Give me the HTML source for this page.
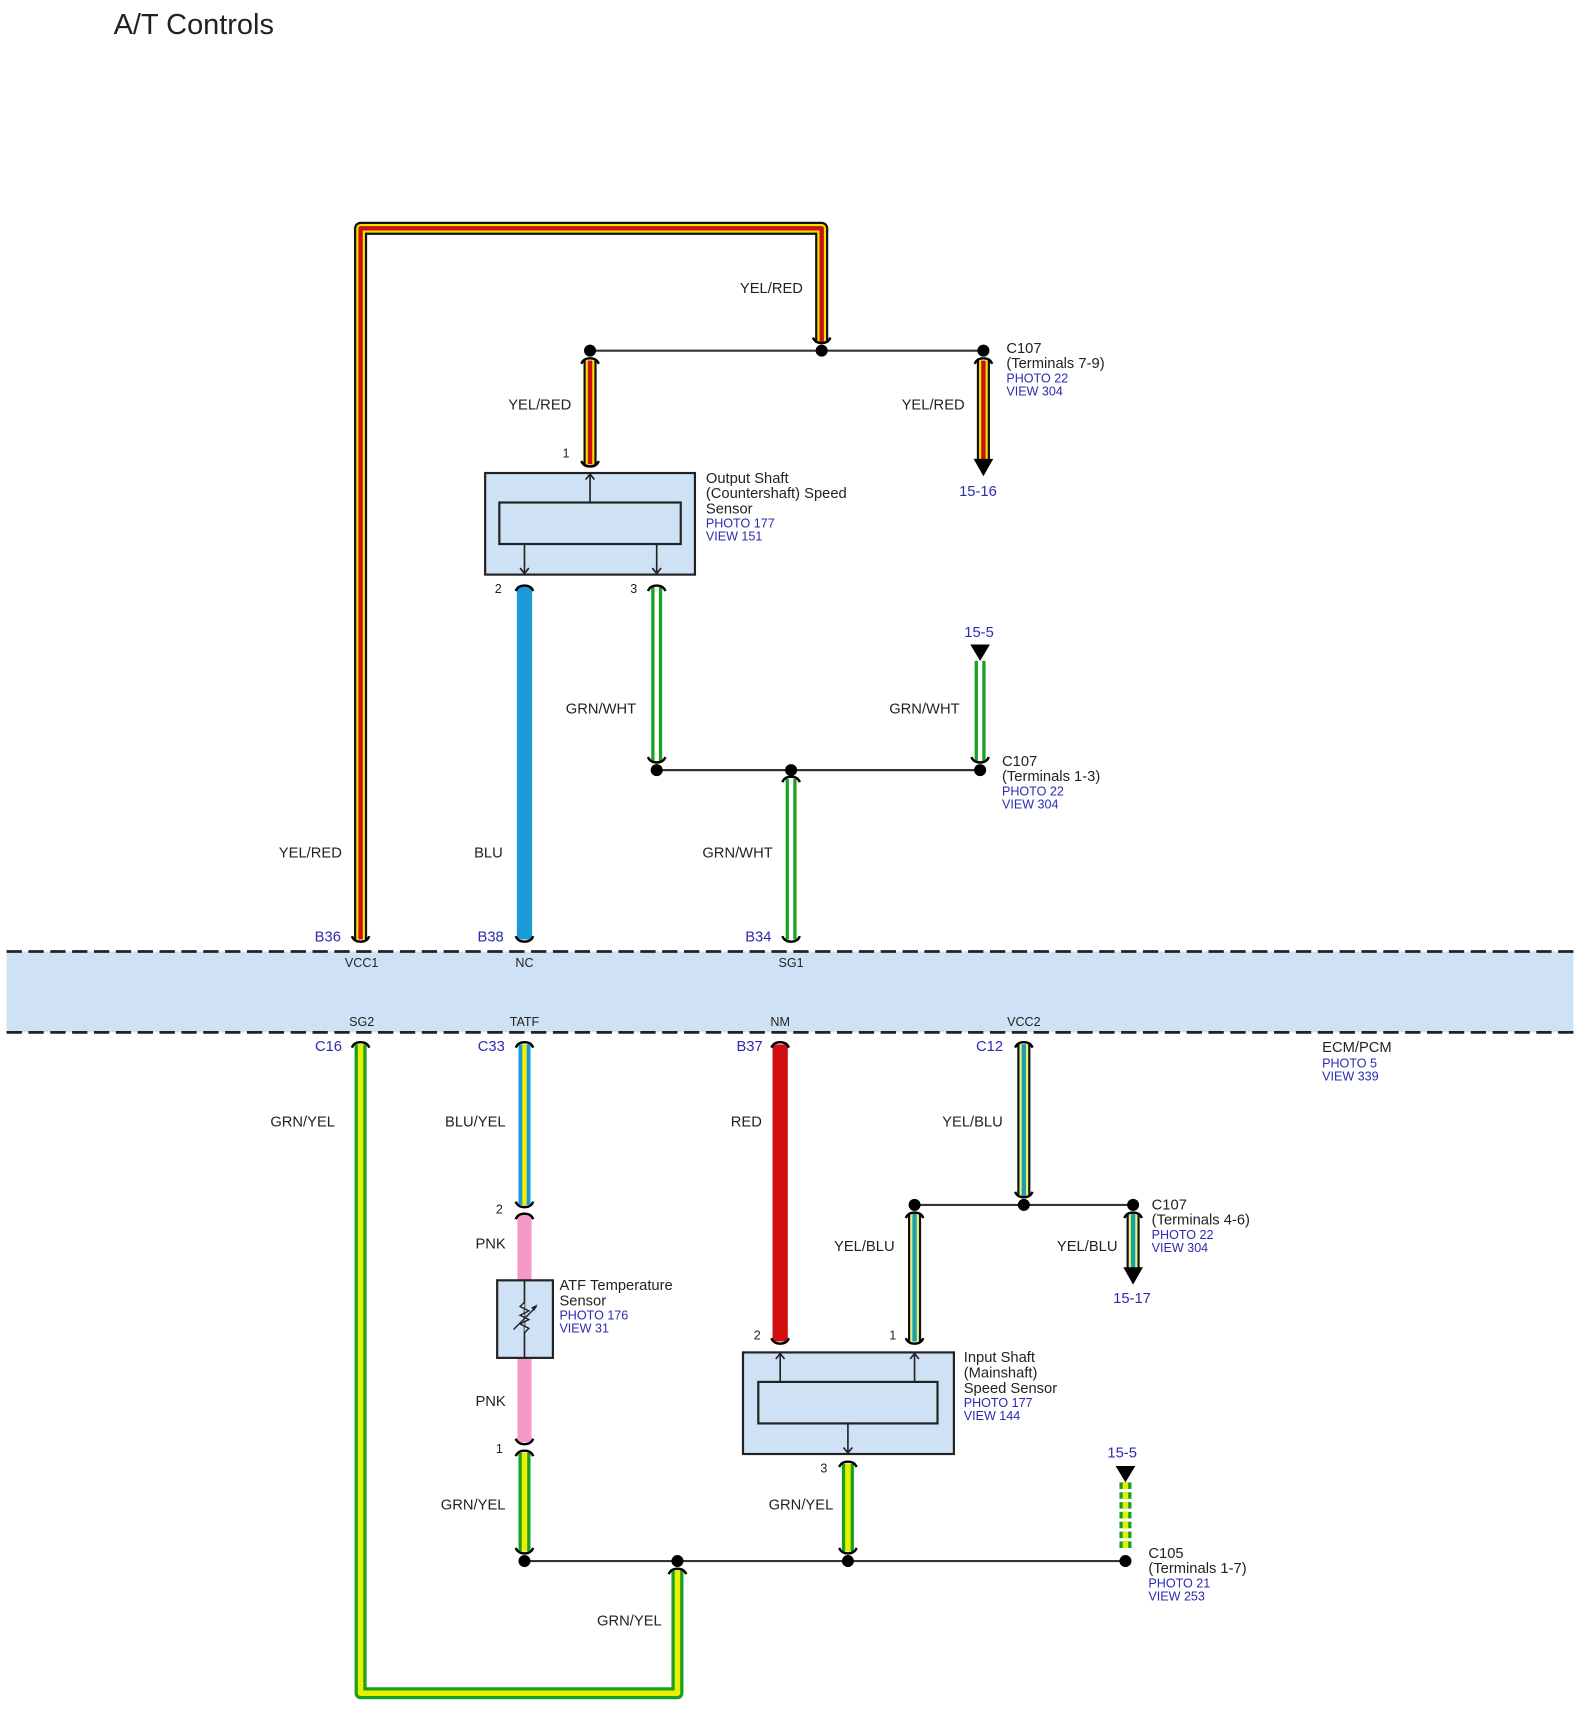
<!DOCTYPE html>
<html><head><meta charset="utf-8"><style>
html,body{margin:0;padding:0;background:#fff}
svg{display:block}
text{font-family:"Liberation Sans",sans-serif;font-size:13.5px;fill:#222}
.b{fill:#2b2bb0;font-size:11.5px}
.bl{fill:#2b2bb0;font-size:13.5px}
.s{font-size:11.5px}
.m{text-anchor:middle}
.e{text-anchor:end}
</style></head><body>
<svg width="1580" height="1714" viewBox="0 0 1446 1569" preserveAspectRatio="none" xmlns="http://www.w3.org/2000/svg">
<defs>
<path id="capD" d="M-8 4 Q-6 -1 0 -1 Q6 -1 8 4" fill="none" stroke="#000" stroke-width="2.2"/>
<path id="capU" d="M-8 -4 Q-6 1 0 1 Q6 1 8 -4" fill="none" stroke="#000" stroke-width="2.2"/>
</defs>
<text x="104" y="31" style="font-size:26.5px">A/T Controls</text>

<rect x="6" y="871" width="1434" height="74" fill="#cfe2f5"/>
<line x1="6" y1="871" x2="1440" y2="871" stroke="#222" stroke-width="2.5" stroke-dasharray="14 6"/>
<line x1="6" y1="945" x2="1440" y2="945" stroke="#222" stroke-width="2.5" stroke-dasharray="14 6"/>

<g fill="none" stroke-linejoin="round">
<polyline points="330,860 330,209 752,209 752,314" stroke="#111" stroke-width="12"/>
<polyline points="330,860 330,209 752,209 752,314" stroke="#f5e000" stroke-width="8"/>
<polyline points="330,860 330,209 752,209 752,314" stroke="#cc1010" stroke-width="4"/>
</g>
<line x1="540" y1="321" x2="900" y2="321" stroke="#333" stroke-width="2"/>
<circle cx="540" cy="321" r="5.5"/><circle cx="752" cy="321" r="5.5"/><circle cx="900" cy="321" r="5.5"/>
<use href="#capU" x="752" y="313"/>
<g fill="none">
<line x1="540" y1="330" x2="540" y2="425" stroke="#111" stroke-width="12"/>
<line x1="540" y1="330" x2="540" y2="425" stroke="#f5e000" stroke-width="8"/>
<line x1="540" y1="330" x2="540" y2="425" stroke="#cc1010" stroke-width="4"/>
<line x1="900" y1="330" x2="900" y2="422" stroke="#111" stroke-width="12"/>
<line x1="900" y1="330" x2="900" y2="422" stroke="#f5e000" stroke-width="8"/>
<line x1="900" y1="330" x2="900" y2="422" stroke="#cc1010" stroke-width="4"/>
</g>
<polygon points="891,420 909,420 900,436" fill="#000"/>
<use href="#capD" x="540" y="329"/><use href="#capD" x="900" y="329"/><use href="#capU" x="540" y="426"/>
<text x="706" y="268" class="m">YEL/RED</text>
<text x="494" y="375" class="m">YEL/RED</text>
<text x="854" y="375" class="m">YEL/RED</text>
<text x="518" y="419" class="m s">1</text>
<text x="895" y="454" class="bl m">15-16</text>
<text x="921" y="323">C107</text>
<text x="921" y="337">(Terminals 7-9)</text>
<text x="921" y="350" class="b">PHOTO 22</text>
<text x="921" y="362" class="b">VIEW 304</text>

<rect x="444" y="433" width="192" height="93" fill="#cfe2f5" stroke="#222" stroke-width="2"/>
<rect x="457" y="460" width="166" height="38" fill="#cfe2f5" stroke="#222" stroke-width="2"/>
<g stroke="#222" stroke-width="1.5" fill="none">
<line x1="540" y1="460" x2="540" y2="434"/><polyline points="536,439 540,434 544,439"/>
<line x1="480" y1="498" x2="480" y2="525"/><polyline points="476,520 480,525 484,520"/>
<line x1="601" y1="498" x2="601" y2="525"/><polyline points="597,520 601,525 605,520"/>
</g>
<text x="646" y="442">Output Shaft</text>
<text x="646" y="456">(Countershaft) Speed</text>
<text x="646" y="470">Sensor</text>
<text x="646" y="483" class="b">PHOTO 177</text>
<text x="646" y="495" class="b">VIEW 151</text>
<text x="456" y="543" class="m s">2</text>
<text x="580" y="543" class="m s">3</text>

<line x1="480" y1="537" x2="480" y2="860" stroke="#1a9ad6" stroke-width="14"/>
<use href="#capD" x="480" y="537"/>
<text x="447" y="785" class="m">BLU</text>

<g fill="none">
<line x1="601" y1="537" x2="601" y2="697" stroke="#1aa020" stroke-width="10"/>
<line x1="601" y1="537" x2="601" y2="697" stroke="#fff" stroke-width="4"/>
<line x1="724" y1="713" x2="724" y2="860" stroke="#1aa020" stroke-width="10"/>
<line x1="724" y1="713" x2="724" y2="860" stroke="#fff" stroke-width="4"/>
<line x1="897" y1="605" x2="897" y2="697" stroke="#1aa020" stroke-width="10"/>
<line x1="897" y1="605" x2="897" y2="697" stroke="#fff" stroke-width="4"/>
</g>
<polygon points="888,590 906,590 897,605" fill="#000"/>
<use href="#capD" x="601" y="537"/><use href="#capU" x="601" y="697"/><use href="#capD" x="724" y="712"/><use href="#capU" x="897" y="697"/>
<line x1="601" y1="705" x2="897" y2="705" stroke="#333" stroke-width="2"/>
<circle cx="601" cy="705" r="5.5"/><circle cx="724" cy="705" r="5.5"/><circle cx="897" cy="705" r="5.5"/>
<text x="550" y="653" class="m">GRN/WHT</text>
<text x="846" y="653" class="m">GRN/WHT</text>
<text x="675" y="785" class="m">GRN/WHT</text>
<text x="284" y="785" class="m">YEL/RED</text>
<text x="896" y="583" class="bl m">15-5</text>
<text x="917" y="701">C107</text>
<text x="917" y="715">(Terminals 1-3)</text>
<text x="917" y="728" class="b">PHOTO 22</text>
<text x="917" y="740" class="b">VIEW 304</text>

<use href="#capU" x="330" y="861"/><use href="#capU" x="480" y="861"/><use href="#capU" x="724" y="861"/>
<text x="312" y="862" class="bl e">B36</text>
<text x="461" y="862" class="bl e">B38</text>
<text x="706" y="862" class="bl e">B34</text>
<text x="331" y="885" class="m s">VCC1</text>
<text x="480" y="885" class="m s">NC</text>
<text x="724" y="885" class="m s">SG1</text>
<text x="331" y="939" class="m s">SG2</text>
<text x="480" y="939" class="m s">TATF</text>
<text x="714" y="939" class="m s">NM</text>
<text x="937" y="939" class="m s">VCC2</text>
<text x="313" y="962" class="bl e">C16</text>
<text x="462" y="962" class="bl e">C33</text>
<text x="698" y="962" class="bl e">B37</text>
<text x="918" y="962" class="bl e">C12</text>
<text x="1210" y="963">ECM/PCM</text>
<text x="1210" y="977" class="b">PHOTO 5</text>
<text x="1210" y="989" class="b">VIEW 339</text>

<g fill="none" stroke-linejoin="round">
<polyline points="330,956 330,1550 620,1550 620,1437" stroke="#1aa020" stroke-width="11"/>
<polyline points="330,956 330,1550 620,1550 620,1437" stroke="#e8f000" stroke-width="5"/>
</g>
<use href="#capD" x="330" y="955"/><use href="#capD" x="620" y="1437"/>

<line x1="480" y1="956" x2="480" y2="1103" stroke="#1a9ad6" stroke-width="11"/>
<line x1="480" y1="956" x2="480" y2="1103" stroke="#f5f000" stroke-width="4"/>
<use href="#capD" x="480" y="955"/><use href="#capU" x="480" y="1104"/>
<line x1="480" y1="1112" x2="480" y2="1320" stroke="#f59ac8" stroke-width="13"/>
<use href="#capD" x="480" y="1112"/><use href="#capU" x="480" y="1321"/>
<rect x="455" y="1172" width="51" height="71" fill="#cfe2f5" stroke="#222" stroke-width="2"/>
<line x1="480" y1="1172" x2="480" y2="1243" stroke="#222" stroke-width="1.5"/>
<polyline points="480,1192 476,1196 484,1200 476,1204 484,1208 476,1212 484,1216 480,1220" fill="#cfe2f5" stroke="#222" stroke-width="1.3"/>
<line x1="470" y1="1217" x2="491" y2="1196" stroke="#222" stroke-width="1.3"/>
<polygon points="492,1194 486,1197 489,1200" fill="#222"/>
<text x="457" y="1111" class="m s">2</text>
<text x="457" y="1330" class="m s">1</text>
<text x="449" y="1143" class="m">PNK</text>
<text x="449" y="1287" class="m">PNK</text>
<text x="512" y="1181">ATF Temperature</text>
<text x="512" y="1195">Sensor</text>
<text x="512" y="1208" class="b">PHOTO 176</text>
<text x="512" y="1220" class="b">VIEW 31</text>

<g fill="none">
<line x1="480" y1="1330" x2="480" y2="1420" stroke="#1aa020" stroke-width="11"/>
<line x1="480" y1="1330" x2="480" y2="1420" stroke="#e8f000" stroke-width="5"/>
<line x1="776" y1="1340" x2="776" y2="1420" stroke="#1aa020" stroke-width="11"/>
<line x1="776" y1="1340" x2="776" y2="1420" stroke="#e8f000" stroke-width="5"/>
<line x1="1030" y1="1357" x2="1030" y2="1420" stroke="#1aa020" stroke-width="11" stroke-dasharray="6 3"/>
<line x1="1030" y1="1357" x2="1030" y2="1420" stroke="#e8f000" stroke-width="5" stroke-dasharray="6 3"/>
</g>
<polygon points="1021,1342 1039,1342 1030,1357" fill="#000"/>
<use href="#capD" x="480" y="1329"/><use href="#capU" x="480" y="1421"/><use href="#capD" x="776" y="1339"/><use href="#capU" x="776" y="1421"/>
<line x1="480" y1="1429" x2="1030" y2="1429" stroke="#333" stroke-width="2"/>
<circle cx="480" cy="1429" r="5.5"/><circle cx="620" cy="1429" r="5.5"/><circle cx="776" cy="1429" r="5.5"/><circle cx="1030" cy="1429" r="5.5"/>
<text x="433" y="1382" class="m">GRN/YEL</text>
<text x="733" y="1382" class="m">GRN/YEL</text>
<text x="576" y="1488" class="m">GRN/YEL</text>
<text x="277" y="1031" class="m">GRN/YEL</text>
<text x="435" y="1031" class="m">BLU/YEL</text>
<text x="1027" y="1334" class="bl m">15-5</text>
<text x="1051" y="1426">C105</text>
<text x="1051" y="1440">(Terminals 1-7)</text>
<text x="1051" y="1453" class="b">PHOTO 21</text>
<text x="1051" y="1465" class="b">VIEW 253</text>

<line x1="714" y1="956" x2="714" y2="1228" stroke="#d01010" stroke-width="14"/>
<use href="#capD" x="714" y="955"/><use href="#capU" x="714" y="1229"/>
<text x="683" y="1031" class="m">RED</text>
<text x="693" y="1226" class="m s">2</text>

<g fill="none">
<line x1="937" y1="956" x2="937" y2="1095" stroke="#111" stroke-width="12"/>
<line x1="937" y1="956" x2="937" y2="1095" stroke="#f0f080" stroke-width="8"/>
<line x1="937" y1="956" x2="937" y2="1095" stroke="#1aa0a8" stroke-width="4"/>
<line x1="837" y1="1111" x2="837" y2="1228" stroke="#111" stroke-width="12"/>
<line x1="837" y1="1111" x2="837" y2="1228" stroke="#f0f080" stroke-width="8"/>
<line x1="837" y1="1111" x2="837" y2="1228" stroke="#1aa0a8" stroke-width="4"/>
<line x1="1037" y1="1111" x2="1037" y2="1162" stroke="#111" stroke-width="12"/>
<line x1="1037" y1="1111" x2="1037" y2="1162" stroke="#f0f080" stroke-width="8"/>
<line x1="1037" y1="1111" x2="1037" y2="1162" stroke="#1aa0a8" stroke-width="4"/>
</g>
<polygon points="1028,1160 1046,1160 1037,1176" fill="#000"/>
<use href="#capD" x="937" y="955"/><use href="#capU" x="937" y="1095"/><use href="#capD" x="837" y="1111"/><use href="#capD" x="1037" y="1111"/><use href="#capU" x="837" y="1229"/>
<line x1="837" y1="1103" x2="1037" y2="1103" stroke="#333" stroke-width="2"/>
<circle cx="837" cy="1103" r="5.5"/><circle cx="937" cy="1103" r="5.5"/><circle cx="1037" cy="1103" r="5.5"/>
<text x="890" y="1031" class="m">YEL/BLU</text>
<text x="791" y="1145" class="m">YEL/BLU</text>
<text x="995" y="1145" class="m">YEL/BLU</text>
<text x="1036" y="1193" class="bl m">15-17</text>
<text x="1054" y="1107">C107</text>
<text x="1054" y="1121">(Terminals 4-6)</text>
<text x="1054" y="1134" class="b">PHOTO 22</text>
<text x="1054" y="1146" class="b">VIEW 304</text>
<text x="817" y="1226" class="m s">1</text>

<rect x="680" y="1238" width="193" height="93" fill="#cfe2f5" stroke="#222" stroke-width="2"/>
<rect x="694" y="1265" width="164" height="38" fill="#cfe2f5" stroke="#222" stroke-width="2"/>
<g stroke="#222" stroke-width="1.5" fill="none">
<line x1="714" y1="1265" x2="714" y2="1239"/><polyline points="710,1244 714,1239 718,1244"/>
<line x1="837" y1="1265" x2="837" y2="1239"/><polyline points="833,1244 837,1239 841,1244"/>
<line x1="776" y1="1303" x2="776" y2="1330"/><polyline points="772,1325 776,1330 780,1325"/>
</g>
<text x="754" y="1348" class="m s">3</text>
<text x="882" y="1247">Input Shaft</text>
<text x="882" y="1261">(Mainshaft)</text>
<text x="882" y="1275">Speed Sensor</text>
<text x="882" y="1288" class="b">PHOTO 177</text>
<text x="882" y="1300" class="b">VIEW 144</text>
</svg>
</body></html>
